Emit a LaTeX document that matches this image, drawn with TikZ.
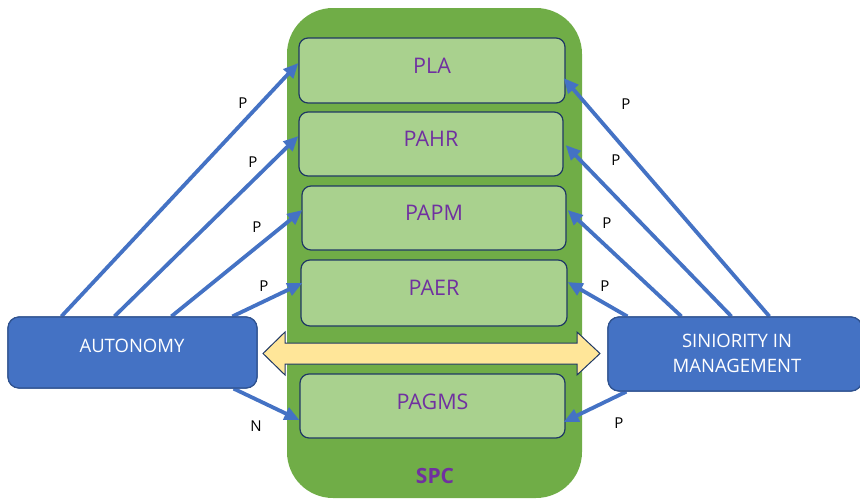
\documentclass[tikz,border=0pt]{standalone}
\usepackage{fontspec}
\setmainfont{Open Sans}
\usetikzlibrary{arrows.meta}
\definecolor{contgreen}{HTML}{70AD47}
\definecolor{boxgreen}{HTML}{A9D18E}
\definecolor{boxedge}{HTML}{1F3864}
\definecolor{mainblue}{HTML}{4472C4}
\definecolor{blueedge}{HTML}{2F528F}
\definecolor{labpurple}{HTML}{7030A0}
\definecolor{linkyellow}{HTML}{FFE699}

\begin{document}
\begin{tikzpicture}[x=1pt,y=-1pt,
  inbox/.style={draw=boxedge, line width=1.2pt, fill=boxgreen, rounded corners=9pt,
    inner sep=0pt},
  boxlabel/.style={text=labpurple, font=\fontsize{21.5}{26}\selectfont},
  factor/.style={draw=blueedge, line width=1.2pt, fill=mainblue, rounded corners=11pt,
    inner sep=0pt},
  factorlabel/.style={text=white, font=\fontsize{18.5}{25}\selectfont, align=center},
  link/.style={draw=mainblue, line width=3.8pt,
    -{Triangle[length=15pt,width=13pt]}},
  sign/.style={font=\fontsize{15}{18}\selectfont, text=black},
]
\clip (0,0) rectangle (860,499);

% outer SPC container
\node[fill=contgreen, rounded corners=46pt, minimum width=295pt, minimum height=490pt,
  inner sep=0pt] (spc) at (434.5,253) {};
\node[text=labpurple, font=\fontsize{21}{24}\selectfont\bfseries] (spclabel) at (435,476) {SPC};

% practice boxes
\node[inbox, minimum width=266pt, minimum height=65pt,
  label={[boxlabel, yshift=5pt]center:PLA}] (pla) at (432,70.5) {};
\node[inbox, minimum width=264pt, minimum height=64pt,
  label={[boxlabel, yshift=5pt]center:PAHR}] (pahr) at (431,144) {};
\node[inbox, minimum width=264pt, minimum height=64pt,
  label={[boxlabel, yshift=5pt]center:PAPM}] (papm) at (434,218) {};
\node[inbox, minimum width=266pt, minimum height=66pt,
  label={[boxlabel, yshift=5pt]center:PAER}] (paer) at (434,293) {};
\node[inbox, minimum width=265pt, minimum height=64pt,
  label={[boxlabel, yshift=4pt]center:PAGMS}] (pagms) at (432.5,406) {};

% two-way link between the factors
\fill[linkyellow, draw=boxedge, line width=1pt]
  (263,353.5) -- (285,332) -- (285,343) -- (577,343) -- (577,332) -- (600,353.5)
  -- (577,375) -- (577,364) -- (285,364) -- (285,375) -- cycle;

% factor boxes
\node[factor, minimum width=249pt, minimum height=71pt] (aut) at (132.5,352.5) {};
\node[factorlabel] (autl) at (132,346) {AUTONOMY};
\node[factor, minimum width=254pt, minimum height=74pt] (sen) at (735,354) {};
\node[factorlabel] (senl) at (737,353) {SINIORITY IN\\MANAGEMENT};

% connectors from AUTONOMY
\draw[link] ([xshift=54pt]aut.north west) -- ([yshift=7.5pt]pla.west);
\draw[link] ([xshift=107pt]aut.north west) -- ([yshift=8pt]pahr.west);
\draw[link] ([xshift=164pt]aut.north west) -- ([yshift=8pt,xshift=1pt]papm.west);
\draw[link] ([xshift=225pt]aut.north west) -- ([yshift=10pt,xshift=2pt]paer.west);
\draw[link] ([xshift=-24pt]aut.south east) -- ([yshift=-14pt]pagms.west);

% connectors from SINIORITY IN MANAGEMENT
\draw[link] ([xshift=162pt]sen.north west) -- ([yshift=-7.5pt,xshift=-2pt]pla.east);
\draw[link] ([xshift=124pt]sen.north west) -- ([yshift=-1pt,xshift=2pt]pahr.east);
\draw[link] ([xshift=74pt]sen.north west) -- ([yshift=8pt,xshift=1pt]papm.east);
\draw[link] ([xshift=20pt]sen.north west) -- ([yshift=11pt]paer.east);
\draw[link] ([xshift=19pt]sen.south west) -- ([yshift=-16pt,xshift=-2pt]pagms.east);

% redraw the factor boxes over the connector starts
\node[factor, minimum width=249pt, minimum height=71pt] at (aut) {};
\node[factorlabel] at (autl) {AUTONOMY};
\node[factor, minimum width=254pt, minimum height=74pt] at (sen) {};
\node[factorlabel] at (senl) {SINIORITY IN\\MANAGEMENT};

% relationship signs
\node[sign] (s1) at (243,103) {P};
\node[sign] (s2) at (253,162) {P};
\node[sign] (s3) at (257,227) {P};
\node[sign] (s4) at (264,286) {P};
\node[sign] (s5) at (256,426) {N};
\node[sign] (s6) at (626,104) {P};
\node[sign] (s7) at (616,160) {P};
\node[sign] (s8) at (607,223) {P};
\node[sign] (s9) at (605,286) {P};
\node[sign] (s10) at (619,423) {P};
\end{tikzpicture}
\end{document}
